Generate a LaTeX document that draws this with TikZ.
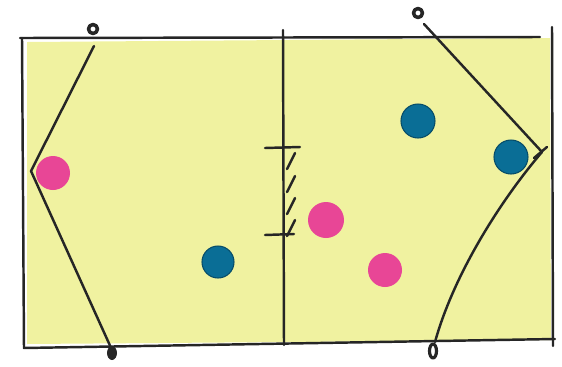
\documentclass[tikz,border=0pt]{standalone}
\usetikzlibrary{positioning}
\definecolor{fieldyellow}{RGB}{240,242,160}
\definecolor{dotpink}{RGB}{232,70,150}
\definecolor{dotblue}{RGB}{10,110,150}
\tikzset{
  pen/.style={line width=1.4pt, black!85, line cap=round, line join=round},
  pinkdot/.style={circle, fill=dotpink, minimum size=34\pxu, inner sep=0pt},
  bluedot/.style={circle, fill=dotblue, draw=dotblue!70!black, line width=.6pt, minimum size=32\pxu, inner sep=0pt}
}
\newlength{\pxu}
\setlength{\pxu}{0.02cm}
\begin{document}
\begin{tikzpicture}[x=0.02cm, y=-0.02cm]
          \useasboundingbox (0,0) rectangle (562,366);

          % field
          \fill[fieldyellow] (27,42) -- (550,38) -- (551,340) -- (27,344) -- cycle;
          \draw[pen] (20,38) -- (540,37);
          \draw[pen] (22,38) -- (24,348) -- (555,339);
          \draw[pen] (552,27) -- (553,346);
          \draw[pen] (283,30) -- (284,345);

          % net
          \draw[pen] (265,148) -- (300,147);
          \draw[pen] (265,235) -- (294,234);
          \foreach \y in {153,176,198,220} {
            \draw[pen] (295,\y) -- (287,\y+16);
          }

          % left line
          \draw[pen, line width=2pt, fill=white] (93,29) circle (4.5);
          \coordinate (ltop) at (94,46);
          \coordinate (lmid) at (31,171);
          \coordinate (lbot) at (112,350);
          \draw[pen] (ltop) -- (lmid) -- (lbot);
          \fill[black!85] (112,353) ellipse (5 and 7);

          % right line
          \draw[pen, line width=2pt, fill=white] (418,13) circle (4.5);
          \coordinate (rtop) at (424,24);
          \coordinate (rmid) at (542,152);
          \coordinate (rbot) at (435,342);
          \draw[pen] (rtop) -- (rmid);
          \draw[pen] (rmid) .. controls (505,195) and (455,270) .. (rbot);
          \draw[pen] (534,158) -- (547,147);
          \draw[pen, line width=1.8pt, fill=white] (433,351) ellipse (3.5 and 7);

          % players
          \node[pinkdot] (p1) at (53,173) {};
          \node[pinkdot, minimum size=36\pxu] (p2) at (326,220) {};
          \node[pinkdot] (p3) at (385,270) {};
          \node[bluedot] (b1) at (218,262) {};
          \node[bluedot, minimum size=34\pxu] (b2) at (418,121) {};
          \node[bluedot, minimum size=34\pxu] (b3) at (511,157) {};

      \end{tikzpicture}
\end{document}
